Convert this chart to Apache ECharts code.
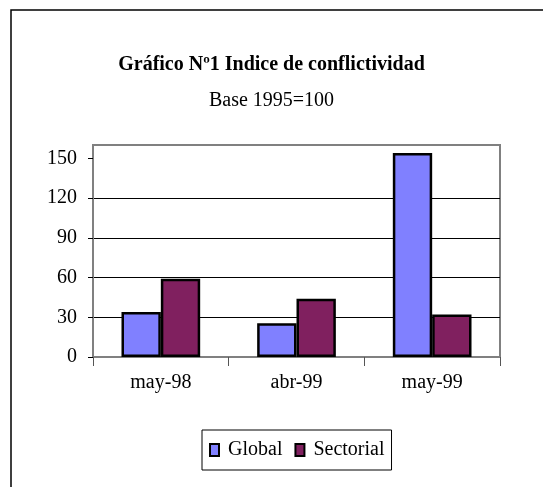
<!DOCTYPE html>
<html style="height: 100%">
<head>
<meta charset="utf-8">
<title>Gráfico Nº1 Indice de conflictividad</title>
<script src="https://cdn.jsdelivr.net/npm/echarts@6/dist/echarts.min.js"></script>
</head>
<body style="height: 100%; margin: 0; background: #fff">
<div id="container" style="width: 543px; height: 487px"></div>
<script type="text/javascript">
var categories = ['may-98', 'abr-99', 'may-99'];
var globalValues = [34, 25.5, 154];
var sectorialValues = [59, 44, 32];
var yTicks = [0, 30, 60, 90, 120, 150];

var font = 'Liberation Serif';
var myChart = echarts.init(document.getElementById('container'));

var option = {
    backgroundColor: '#fff',
    animation: false,
    title: {
        text: 'Gráfico Nº1 Indice de conflictividad',
        subtext: 'Base 1995=100',
        left: 'center',
        top: 50,
        itemGap: 16,
        textStyle: { fontFamily: font, fontSize: 20, fontWeight: 'bold', color: '#000' },
        subtextStyle: { fontFamily: font, fontSize: 20, color: '#000' }
    },
    legend: {
        left: 202,
        top: 430,
        padding: [10, 7, 10, 7],
        itemGap: 12,
        itemWidth: 9,
        itemHeight: 12,
        borderColor: '#000',
        borderWidth: 1,
        icon: 'rect',
        itemStyle: { borderColor: '#000', borderWidth: 2 },
        textStyle: { fontFamily: font, fontSize: 20, color: '#000', padding: [0, 0, 0, 4] },
        data: ['Global', 'Sectorial']
    },
    grid: {
        left: 93, top: 145, right: 43, bottom: 130,
        show: true,
        borderColor: '#808080',
        borderWidth: 2
    },
    graphic: [{
        type: 'rect',
        shape: { x: 11, y: 10, width: 560, height: 520 },
        style: { fill: 'none', stroke: '#000', lineWidth: 1.5 },
        silent: true
    }],
    xAxis: {
        type: 'category',
        data: categories,
        axisLine: { lineStyle: { color: '#808080', width: 2 } },
        axisTick: { show: true, length: 9, lineStyle: { color: '#555' } },
        axisLabel: { fontFamily: font, fontSize: 20, color: '#000', margin: 16 }
    },
    yAxis: {
        type: 'value',
        min: 0,
        max: 160,
        interval: 10,
        axisLine: { show: true, lineStyle: { color: '#808080', width: 2 } },
        axisTick: { show: true, length: 5, customValues: yTicks, lineStyle: { color: '#000' } },
        axisLabel: { fontFamily: font, fontSize: 20, color: '#000', margin: 16, customValues: yTicks },
        splitLine: { show: true, showMinLine: false, showMaxLine: false, lineStyle: { color: '#000', width: 1 } }
    },
    series: [{
        name: 'Global',
        type: 'bar',
        data: globalValues,
        barGap: '0%',
        barCategoryGap: '42%',
        itemStyle: { color: '#8080ff', borderColor: '#000', borderWidth: 2.5 }
    }, {
        name: 'Sectorial',
        type: 'bar',
        data: sectorialValues,
        itemStyle: { color: '#80205f', borderColor: '#000', borderWidth: 2.5 }
    }]
};

// split lines only at the labelled ticks
option.yAxis.splitLine.customValues = yTicks;
myChart.setOption(option);
</script>
</body>
</html>
